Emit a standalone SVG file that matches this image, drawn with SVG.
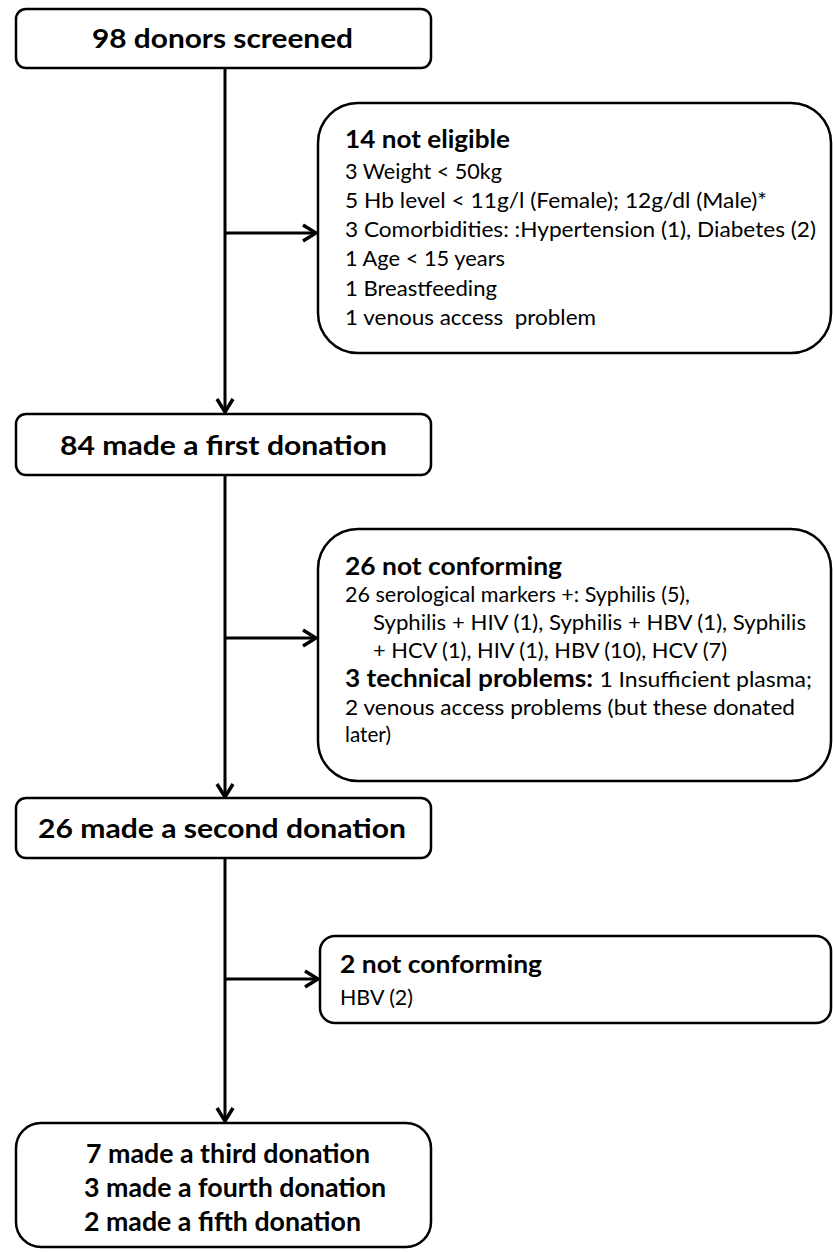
<svg xmlns="http://www.w3.org/2000/svg" width="833" height="1252" viewBox="0 0 833 1252">
<style>
.box{fill:#fff;stroke:#000;stroke-width:2.5}
.t{font-family:Lato,"Open Sans","Liberation Sans",sans-serif;fill:#000}
.b{font-weight:bold}
.title{font-size:27px;font-weight:bold}
.sm{font-size:21px}
.hd{font-size:24px;font-weight:bold}
.ln{stroke:#000;stroke-width:3;fill:none}
</style>
<defs>
<marker id="ar" viewBox="0 0 20 20" refX="18" refY="10" markerWidth="20" markerHeight="20" markerUnits="userSpaceOnUse" orient="auto">
<path d="M5,2 L18,10 L5,18" fill="none" stroke="#000" stroke-width="3.5"/>
</marker>
</defs>
<g id="connectors">
<line class="ln" x1="225" y1="68" x2="225" y2="412" marker-end="url(#ar)"/>
<line class="ln" x1="225" y1="233" x2="316" y2="233" marker-end="url(#ar)"/>
<line class="ln" x1="225" y1="475" x2="225" y2="797" marker-end="url(#ar)"/>
<line class="ln" x1="225" y1="638" x2="316" y2="638" marker-end="url(#ar)"/>
<line class="ln" x1="225" y1="858" x2="225" y2="1121" marker-end="url(#ar)"/>
<line class="ln" x1="225" y1="979" x2="318" y2="979" marker-end="url(#ar)"/>
</g>
<g id="n1">
<rect class="box" x="16" y="9" width="415" height="59" rx="10"/>
<text class="t title" x="92" y="48" textLength="261" lengthAdjust="spacingAndGlyphs">98 donors screened</text>
</g>
<g id="n2">
<rect class="box" x="318" y="103" width="513" height="250" rx="40"/>
<text class="t hd" x="345" y="148" textLength="165" lengthAdjust="spacingAndGlyphs">14 not eligible</text>
<text class="t sm" x="345" y="179" textLength="157" lengthAdjust="spacingAndGlyphs">3 Weight &lt; 50kg</text>
<text class="t sm" x="345" y="208" textLength="422" lengthAdjust="spacingAndGlyphs">5 Hb level &lt; 11g/l (Female); 12g/dl (Male)*</text>
<text class="t sm" x="345" y="237" textLength="471" lengthAdjust="spacingAndGlyphs">3 Comorbidities: :Hypertension (1), Diabetes (2)</text>
<text class="t sm" x="345" y="266" textLength="160" lengthAdjust="spacingAndGlyphs">1 Age &lt; 15 years</text>
<text class="t sm" x="345" y="296" textLength="152" lengthAdjust="spacingAndGlyphs">1 Breastfeeding</text>
<text class="t sm" x="345" y="325" textLength="251" lengthAdjust="spacingAndGlyphs" xml:space="preserve">1 venous access  problem</text>
</g>
<g id="n3">
<rect class="box" x="16" y="414" width="415" height="61" rx="10"/>
<text class="t title" x="60" y="455" textLength="327" lengthAdjust="spacingAndGlyphs">84 made a first donation</text>
</g>
<g id="n4">
<rect class="box" x="318" y="529" width="513" height="252" rx="40"/>
<text class="t hd" x="345" y="575" textLength="217" lengthAdjust="spacingAndGlyphs">26 not conforming</text>
<text class="t sm" x="345" y="602" textLength="345" lengthAdjust="spacingAndGlyphs">26 serological markers +: Syphilis (5),</text>
<text class="t sm" x="373" y="630" textLength="433" lengthAdjust="spacingAndGlyphs">Syphilis + HIV (1), Syphilis + HBV (1), Syphilis</text>
<text class="t sm" x="373" y="658" textLength="354" lengthAdjust="spacingAndGlyphs">+ HCV (1), HIV (1), HBV (10), HCV (7)</text>
<text class="t sm" x="345" y="687" textLength="467" lengthAdjust="spacingAndGlyphs"><tspan class="b" font-size="24">3 technical problems: </tspan>1 Insufficient plasma;</text>
<text class="t sm" x="345" y="715" textLength="450" lengthAdjust="spacingAndGlyphs">2 venous access problems (but these donated</text>
<text class="t sm" x="345" y="742" textLength="46" lengthAdjust="spacingAndGlyphs">later)</text>
</g>
<g id="n5">
<rect class="box" x="16" y="798" width="415" height="60" rx="10"/>
<text class="t title" x="38" y="838" textLength="368" lengthAdjust="spacingAndGlyphs">26 made a second donation</text>
</g>
<g id="n6">
<rect class="box" x="320" y="936" width="511" height="87" rx="15"/>
<text class="t hd" x="340" y="973" textLength="202" lengthAdjust="spacingAndGlyphs">2 not conforming</text>
<text class="t sm" x="340" y="1005" textLength="73" lengthAdjust="spacingAndGlyphs">HBV (2)</text>
</g>
<g id="n7">
<rect class="box" x="16" y="1123" width="415" height="124" rx="25"/>
<text class="t title" x="86" y="1163" textLength="284" lengthAdjust="spacingAndGlyphs">7 made a third donation</text>
<text class="t title" x="84" y="1197" textLength="302" lengthAdjust="spacingAndGlyphs">3 made a fourth donation</text>
<text class="t title" x="84" y="1231" textLength="277" lengthAdjust="spacingAndGlyphs">2 made a fifth donation</text>
</g>
</svg>
